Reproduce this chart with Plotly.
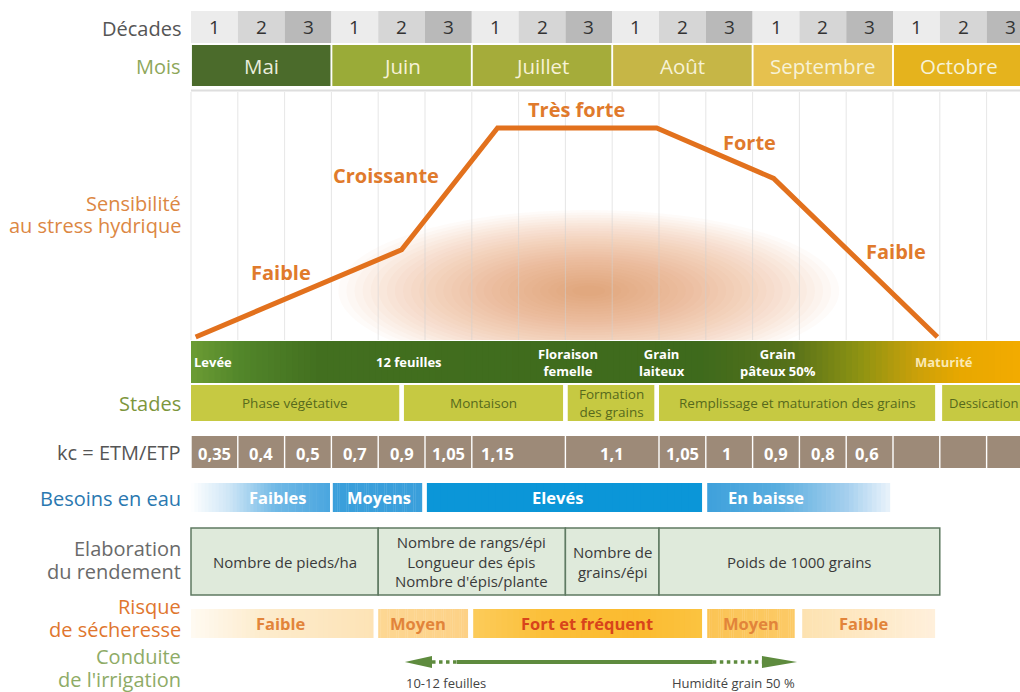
import plotly.graph_objects as go

W, H = 1020, 692
FONT = "Open Sans"
X0_PX, DEC_PX = 191.0, 46.8
X_LO = -X0_PX / DEC_PX
X_HI = (W - X0_PX) / DEC_PX

# ---------------- data ----------------
decades = ["1", "2", "3"] * 6
months = ["Mai", "Juin", "Juillet", "Août", "Septembre", "Octobre"]
month_colors = ["#4b6b2b", "#9aab38", "#a5ac3a", "#c6b646", "#e6c14e", "#e5b31d"]

sens_x = [0.1, 4.5, 6.55, 9.95, 12.45, 15.95]
sens_y = [0.05, 4.2, 10.0, 10.0, 7.6, 0.05]
sens_labels = ["Faible", "Croissante", "Très forte", "Forte", "Faible"]
sens_label_x = [1.92, 4.17, 8.23, 11.94, 15.06]
sens_label_y = [3.1, 7.76, 10.86, 9.29, 4.14]

events = ["Levée", "12 feuilles", "Floraison<br>femelle", "Grain<br>laiteux",
          "Grain<br>pâteux 50%", "Maturité"]
event_x = [0.47, 4.66, 8.06, 10.06, 12.54, 16.1]

stades = ["Phase végétative", "Montaison", "Formation<br>des grains",
          "Remplissage et maturation des grains", "Dessication"]
stades_start = [0.0, 4.55, 8.05, 10.0, 16.05]
stades_end = [4.45, 7.95, 9.9, 15.9, 18.0]

kc_values = ["0,35", "0,4", "0,5", "0,7", "0,9", "1,05", "1,15", "1,1", "1,05",
             "1", "0,9", "0,8", "0,6", "", "", ""]
kc_start = [0, 1, 2, 3, 4, 5, 6, 8, 10, 11, 12, 13, 14, 15, 16, 17]
kc_end = [1, 2, 3, 4, 5, 6, 8, 10, 11, 12, 13, 14, 15, 16, 17, 18]
kc_text_x = [0.5, 1.5, 2.5, 3.5, 4.5, 5.5, 6.55, 9.0, 10.5, 11.45, 12.5, 13.5,
             14.45, 15.5, 16.5, 17.5]

besoins = ["Faibles", "Moyens", "Elevés", "En baisse"]
besoins_start = [0.0, 3.03, 5.04, 11.03]
besoins_end = [2.97, 4.94, 10.92, 14.94]
besoins_text_x = [1.84, 4.02, 7.83, 12.29]

elaboration = ["Nombre de pieds/ha",
               "Nombre de rangs/épi<br>Longueur des épis<br>Nombre d'épis/plante",
               "Nombre de<br>grains/épi", "Poids de 1000 grains"]
elab_start = [0, 4, 8, 10]
elab_end = [4, 8, 10, 16]

risque = ["Faible", "Moyen", "Fort et fréquent", "Moyen", "Faible"]
risque_start = [0.0, 4.0, 6.03, 11.03, 13.06]
risque_end = [3.9, 5.92, 10.92, 12.9, 15.9]
risque_text_x = [1.92, 4.85, 8.46, 11.97, 14.37]

irrig_start, irrig_end = 4.57, 12.95
irrig_labels = ["10-12 feuilles", "Humidité grain 50 %"]

left_labels = [
    ("Décades", 28, "#555555"), ("Mois", 66, "#8ea75a"),
    ("Sensibilité", 203, "#dc8743"), ("au stress hydrique", 225, "#dc8743"),
    ("Stades", 403, "#7d963c"), ("kc = ETM/ETP", 452, "#555555"),
    ("Besoins en eau", 498, "#2a78b0"),
    ("Elaboration", 548, "#6a6a6a"), ("du rendement", 571, "#6a6a6a"),
    ("Risque", 606, "#e0762e"), ("de sécheresse", 629, "#e0762e"),
    ("Conduite", 656, "#8eab66"), ("de l'irrigation", 679, "#8eab66"),
]

# ---------------- layout rows (pixel units) ----------------
DEC = (11, 43)
MON = (45, 86)
CHART = (92, 340)
STAGE = (341, 383)
STADES = (385, 421)
KC = (436, 468)
BES = (483, 512)
ELAB = (528, 595)
RIS = (609, 638)
IRR_Y, IRR_LBL_Y = 662, 683

SENS_PX0, SENS_SCALE = 338.0, 21.0
y2_lo = (SENS_PX0 - CHART[1]) / SENS_SCALE
y2_hi = (SENS_PX0 - CHART[0]) / SENS_SCALE


def h2r(h):
    return tuple(int(h[i:i + 2], 16) for i in (1, 3, 5))


def interp(stops, x):
    if x <= stops[0][0]:
        return stops[0][1]
    for (p0, c0), (p1, c1) in zip(stops[:-1], stops[1:]):
        if p0 <= x <= p1:
            t = (x - p0) / (p1 - p0) if p1 > p0 else 0
            a, b = h2r(c0), h2r(c1)
            r = [round(a[k] + (b[k] - a[k]) * t) for k in range(3)]
            return "rgb(%d,%d,%d)" % tuple(r)
    return stops[-1][1]


shapes = []
ann = []


def rect(x0, x1, y0, y1, fill, line=None, lw=0, yref="y"):
    shapes.append(dict(type="rect", xref="x", yref=yref, x0=x0, x1=x1, y0=y0, y1=y1,
                       fillcolor=fill, line=dict(width=lw, color=line or fill),
                       layer="below"))


def grad(x0, x1, y0, y1, stops, n):
    w = (x1 - x0) / n
    for i in range(n):
        a = x0 + i * w
        b = min(x1, a + w * 1.15)
        rect(a, b, y0, y1, interp(stops, a + w / 2))


def text(x, y, s, size, color, bold=False, xanchor="center", xref="x", yref="y"):
    ann.append(dict(x=x, y=y, xref=xref, yref=yref, text=("<b>%s</b>" % s) if bold else s,
                    showarrow=False, xanchor=xanchor, yanchor="middle",
                    font=dict(family=FONT, size=size, color=color)))


# ---- glow behind curve (chart subplot) ----
n_glow = 30
for i in range(n_glow):
    t = 1 - i / (n_glow - 1)
    rx, ry = 0.35 + 5.0 * t, 0.25 + 3.6 * t
    cx, cy = 8.5, 2.25
    shapes.append(dict(type="circle", xref="x", yref="y2", x0=cx - rx, x1=cx + rx,
                       y0=cy - ry, y1=cy + ry, fillcolor="rgba(236,128,66,0.032)",
                       line=dict(width=0), layer="below"))
# gridlines
for k in range(0, 19):
    shapes.append(dict(type="line", xref="x", yref="y2", x0=k, x1=k, y0=y2_lo, y1=y2_hi,
                       line=dict(color="rgba(210,210,210,0.55)", width=1), layer="below"))

# ---- decades ----
dec_cols = ["#ececec", "#d6d6d6", "#b9b9b9"]
for i, d in enumerate(decades):
    rect(i, i + 1, DEC[0], DEC[1], dec_cols[i % 3])
    text(i + 0.5, (DEC[0] + DEC[1]) / 2, d, 19, "#333333")

# ---- months ----
for i, m in enumerate(months):
    rect(3 * i + 0.02, 3 * i + 3 - 0.02, MON[0], MON[1], month_colors[i])
    text(3 * i + 1.5 - (0.1 if i == 5 else 0), (MON[0] + MON[1]) / 2, m, 20.5,
         "#e9eddc" if i == 0 else "#f7f2d6")
shapes.append(dict(type="line", xref="x", yref="y", x0=0, x1=X_HI + 0.2, y0=90.5, y1=90.5,
                   line=dict(color="#dedede", width=2), layer="below"))

# ---- stage bar gradient ----
stage_stops = [(0, "#6c9c34"), (1.05, "#52862a"), (2.76, "#426f1f"), (10.88, "#3e6a1c"),
               (12.8, "#56711a"), (14.3, "#8e9312"), (15.47, "#c9a00a"),
               (16.43, "#e8a800"), (17.8, "#f3ab00")]
grad(0, X_HI + 0.1, STAGE[0], STAGE[1], stage_stops, 140)
for s, x in zip(events, event_x):
    text(x, (STAGE[0] + STAGE[1]) / 2, s, 13,
         "#fbe9b4" if s == "Maturité" else "#ffffff", bold=True)

# ---- stades ----
for s, a, b in zip(stades, stades_start, stades_end):
    rect(a, b, STADES[0], STADES[1], "#c6c942")
    if b < 17:
        text((a + b) / 2, (STADES[0] + STADES[1]) / 2, s, 13.5, "#56691c")
    else:
        text(a + 0.1, (STADES[0] + STADES[1]) / 2, s, 13, "#56691c", xanchor="left")

# ---- kc ----
for v, a, b, tx in zip(kc_values, kc_start, kc_end, kc_text_x):
    rect(a + 0.015, b - 0.015, KC[0], KC[1], "#9d8a78")
    if v:
        text(tx, (KC[0] + KC[1]) / 2 + 1, v, 16.5, "#ffffff", bold=True)

# ---- besoins en eau ----
bes_stops = [
    [(0, "#ffffff"), (0.8, "#cfe6f6"), (1.8, "#71b9e6"), (2.97, "#4aa6df")],
    [(3.03, "#3a9fdb"), (4.94, "#3a9fdb")],
    [(5.04, "#0b96d8"), (10.92, "#0b96d8")],
    [(11.03, "#3fa1dc"), (12.5, "#58addf"), (14.0, "#a4cfee"), (14.94, "#eaf3fb")],
]
for s, a, b, tx, st in zip(besoins, besoins_start, besoins_end, besoins_text_x, bes_stops):
    grad(a, b, BES[0], BES[1], st, 40)
    text(tx, (BES[0] + BES[1]) / 2, s, 16.5, "#ffffff", bold=True)

# ---- elaboration ----
for s, a, b in zip(elaboration, elab_start, elab_end):
    rect(a, b, ELAB[0], ELAB[1], "#dfeadb", line="#5f7a62", lw=1.5)
    text((a + b) / 2, (ELAB[0] + ELAB[1]) / 2, s, 15, "#3a3a3a")

# ---- risque ----
ris_stops = [
    [(0, "#fffaf2"), (1.5, "#fdeccd"), (3.9, "#fde3b6")],
    [(4.0, "#fdd793"), (5.92, "#fdd186")],
    [(6.03, "#fccb5a"), (7.5, "#fbbf3a"), (9.5, "#fbbb30"), (10.92, "#fbc340")],
    [(11.03, "#fbc455"), (12.9, "#fcca66")],
    [(13.06, "#fde2b0"), (15.9, "#fff0dc")],
]
ris_txt_col = ["#e2843a", "#e2843a", "#d8441b", "#e2843a", "#e2843a"]
for s, a, b, tx, st, c in zip(risque, risque_start, risque_end, risque_text_x,
                               ris_stops, ris_txt_col):
    grad(a, b, RIS[0], RIS[1], st, 40)
    text(tx, (RIS[0] + RIS[1]) / 2, s, 16.5, c, bold=True)

# ---- irrigation arrow ----
GREEN = "#5e8b3e"
head = 0.58
dot_len = 0.53
right_dot = 1.05
ys = IRR_Y
shapes.append(dict(type="path", xref="x", yref="y", layer="above",
                   path="M %f,%f L %f,%f L %f,%f Z" % (irrig_start, ys, irrig_start + head, ys - 6,
                                                       irrig_start + head, ys + 6),
                   fillcolor=GREEN, line=dict(width=0)))
shapes.append(dict(type="path", xref="x", yref="y", layer="above",
                   path="M %f,%f L %f,%f L %f,%f Z" % (irrig_end, ys, irrig_end - 0.75, ys - 6,
                                                       irrig_end - 0.75, ys + 6),
                   fillcolor=GREEN, line=dict(width=0)))
a1 = irrig_start + head
a2 = a1 + dot_len
b2 = irrig_end - 0.75
b1 = b2 - right_dot
shapes.append(dict(type="line", xref="x", yref="y", x0=a1, x1=a2, y0=ys, y1=ys,
                   line=dict(color=GREEN, width=3.5, dash="dot")))
shapes.append(dict(type="line", xref="x", yref="y", x0=a2, x1=b1, y0=ys, y1=ys,
                   line=dict(color=GREEN, width=4)))
shapes.append(dict(type="line", xref="x", yref="y", x0=b1, x1=b2, y0=ys, y1=ys,
                   line=dict(color=GREEN, width=3.5, dash="dot")))
text(irrig_start - 0.02, IRR_LBL_Y, irrig_labels[0], 13, "#444444", xanchor="left")
text(irrig_end, IRR_LBL_Y, irrig_labels[1], 13, "#444444", xanchor="right")

# ---- left labels ----
for s, y, c in left_labels:
    text(183 / W, y, s, 20, c, xanchor="right", xref="paper")

# ---- sensitivity labels ----
for s, x, y in zip(sens_labels, sens_label_x, sens_label_y):
    text(x, y, s, 20, "#e07a2c", bold=True, yref="y2")

fig = go.Figure()
fig.add_trace(go.Scatter(x=sens_x, y=sens_y, mode="lines", xaxis="x", yaxis="y2",
                         line=dict(color="#e2711d", width=5), hoverinfo="skip",
                         showlegend=False))
# invisible trace to establish main pixel axis
fig.add_trace(go.Scatter(x=[0], y=[0], mode="markers", marker=dict(opacity=0),
                         xaxis="x", yaxis="y", hoverinfo="skip", showlegend=False))

fig.update_layout(
    width=W, height=H, margin=dict(l=0, r=0, t=0, b=0),
    paper_bgcolor="white", plot_bgcolor="rgba(0,0,0,0)",
    xaxis=dict(range=[X_LO, X_HI], visible=False, domain=[0, 1], fixedrange=True),
    yaxis=dict(range=[H, 0], visible=False, domain=[0, 1], fixedrange=True),
    yaxis2=dict(range=[y2_lo, y2_hi], visible=False, anchor="x",
                domain=[(H - CHART[1]) / H, (H - CHART[0]) / H], fixedrange=True),
    shapes=shapes, annotations=ann, font=dict(family=FONT),
    showlegend=False,
)
fig.write_html("out.html", config=dict(displayModeBar=False),
               post_script="document.body.style.margin='0';document.body.style.overflow='hidden';")
